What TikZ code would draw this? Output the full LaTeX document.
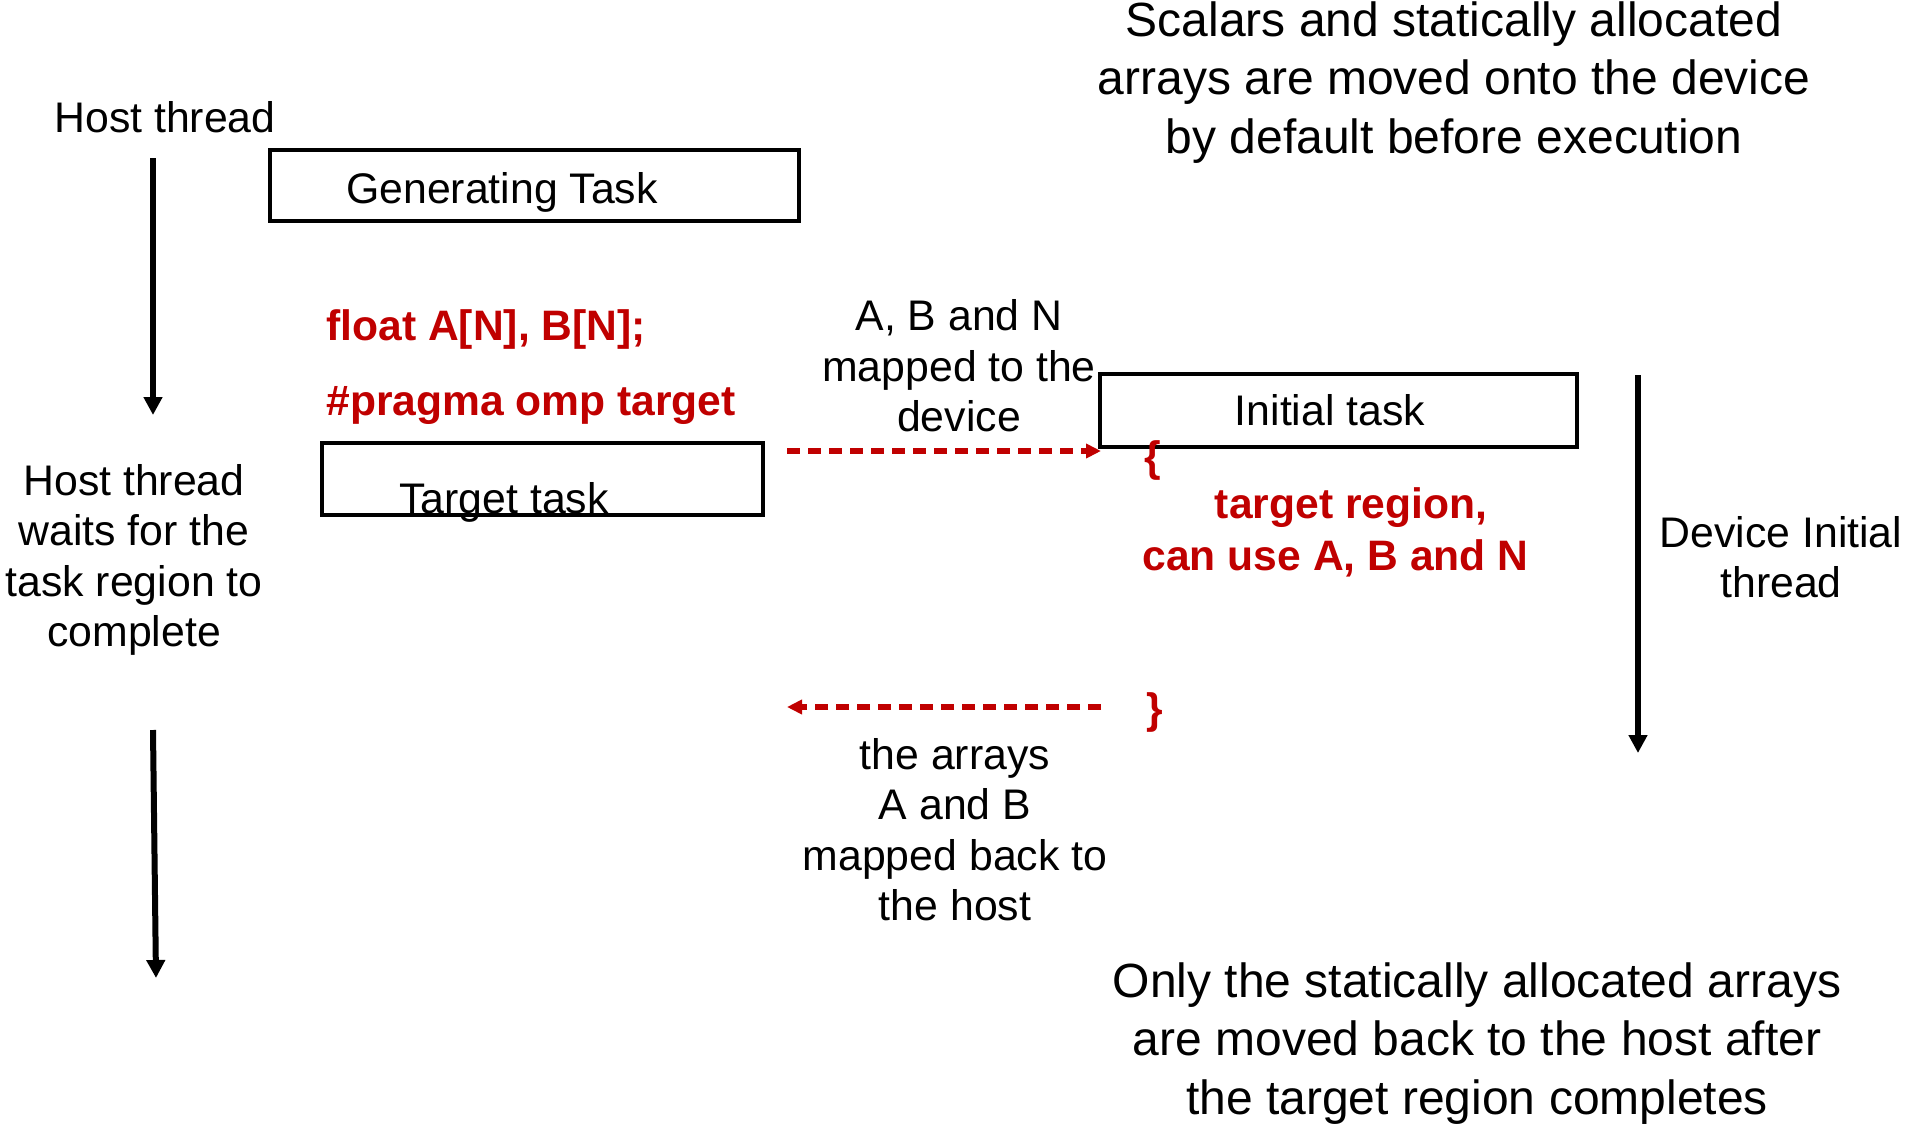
\documentclass[tikz,border=0pt]{standalone}
\usepackage{fontspec}
\setmainfont{Liberation Sans}
\usetikzlibrary{arrows.meta}
\definecolor{dred}{RGB}{192,0,0}
\begin{document}
\begin{tikzpicture}[x=0.5pt,y=-0.5pt,
  txt/.style={font=\fontsize{21.4}{25.2}\selectfont, align=center, inner sep=0pt},
  big/.style={font=\fontsize{24}{29.2}\selectfont, align=center, inner sep=0pt},
  code/.style={font=\fontsize{21.3}{25.5}\selectfont\bfseries, text=dred, inner sep=0pt, align=center},
  taskbox/.style={draw, line width=2pt, inner sep=0pt, minimum height=36pt},
  tl/.style={-{Triangle[length=9pt,width=9pt]}, line width=3pt},
  dl/.style={dred, line width=2.7pt, dash pattern=on 6.5pt off 4pt, -{Triangle[length=7.5pt,width=7pt]}},
]
\useasboundingbox (0,0) rectangle (1908,1124);
% boxes
\node[taskbox, minimum width=264.5pt, minimum height=35.5pt] (gt) at (534.5,185.5) {};
\node[taskbox, minimum width=220.5pt] (tt) at (542.5,479) {};
\node[taskbox, minimum width=238.5pt, minimum height=36.5pt] (it) at (1338.5,410.5) {};
% box labels
\node[txt] (gtl) at (502,192.5) {Generating Task};
\node[txt, anchor=base] (ttl) at (504,513) {Target task};
\node[txt] (itl) at (1330,410) {Initial task};
% texts
\node[txt] (ht) at (165,117) {Host thread};
\node[txt] (hw) at (134,560) {Host thread\\waits for the\\task region to\\complete};
\node[code, anchor=west] (fl) at (326,329.5) {float A[N], B[N];};
\node[code, anchor=west] (pr) at (326,405.5) {\#pragma omp target};
\node[txt] (mt) at (959,366) {A, B and N\\mapped to the\\device};
\node[txt] (mb) at (955,829.5) {the arrays\\A and B\\mapped back to\\the host};
\node[code] (lb) at (1153,460) {\{};
\node[code] (rb) at (1155,712) {\}};
\node[code] (tr1) at (1351,507.5) {target region,};
\node[code] (tr2) at (1335.5,558.5) {can use A, B and N};
\node[txt] (di) at (1781,557) {Device Initial\\thread};
\node[big] (sc) at (1454,82.5) {Scalars and statically allocated\\arrays are moved onto the device\\by default before execution};
\node[big] (on) at (1477,1043.5) {Only the statically allocated arrays\\are moved back to the host after\\the target region completes};
% arrow end points
\coordinate (h1a) at (153,158);
\coordinate (h1b) at (153,415);
\coordinate (h2a) at (153,730);
\coordinate (h2b) at (156,978);
\coordinate (d1a) at (1638,375);
\coordinate (d1b) at (1638,753);
\coordinate (ta) at (787,451);
\coordinate (tb) at (1101,451);
\coordinate (ba) at (1101,707);
\coordinate (bb) at (787,707);
\draw[tl] (h1a) -- (h1b);
\draw[tl] (h2a) -- (h2b);
\draw[tl] (d1a) -- (d1b);
\draw[dl] (ta) -- (tb);
\draw[dl] (ba) -- (bb);
\end{tikzpicture}
\end{document}
